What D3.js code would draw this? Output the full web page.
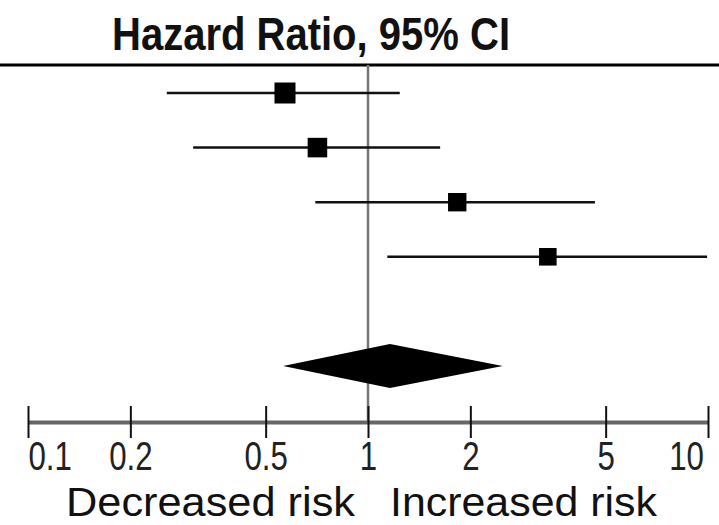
<!DOCTYPE html>
<html>
<head>
<meta charset="utf-8">
<script src="https://cdn.jsdelivr.net/npm/d3@7"></script>
<style>
  body { margin: 0; background: #fff; }
  svg { display: block; font-family: "Liberation Sans", Arial, sans-serif; }
</style>
</head>
<body>
<svg width="719" height="525"></svg>
<script>
// study estimates (hazard ratio, 95% CI)
var hr = [0.57, 0.71, 1.83, 3.38];
var lower = [0.256, 0.306, 0.70, 1.14];
var upper = [1.24, 1.63, 4.65, 9.94];
var weights = [30, 26, 23, 21];

// pooled estimate
var pooled = [1.16, 0.563, 2.49];

var tickValues = [0.1, 0.2, 0.5, 1, 2, 5, 10];
var tickLabels = ["0.1", "0.2", "0.5", "1", "2", "5", "10"];

var svg = d3.select("svg");

var xScale = d3.scaleLog()
    .domain([0.1, 10])
    .range([28, 708]);

// row index -> y, pooled diamond sits two rows below the last study
var yScale = d3.scaleLinear()
    .domain([0, 5])
    .range([93, 366]);

var sizeScale = d3.scaleSqrt()
    .domain([0, 30])
    .range([0, 21]);

var axisY = 422;

//title
svg.append("text")
    .attr("x", 112)
    .attr("y", 50)
    .attr("font-size", 46)
    .attr("font-weight", "bold")
    .attr("textLength", 398)
    .attr("lengthAdjust", "spacingAndGlyphs")
    .attr("fill", "#111")
    .text("Hazard Ratio, 95% CI");

// top rule
svg.append("line")
    .attr("x1", 0).attr("x2", 719)
    .attr("y1", 65).attr("y2", 65)
    .attr("stroke", "#000")
    .attr("stroke-width", 3);

// line of no effect
svg.append("line")
    .attr("x1", xScale(1)).attr("x2", xScale(1))
    .attr("y1", 65).attr("y2", axisY)
    .attr("stroke", "#777")
    .attr("stroke-width", 2.5);

// confidence intervals
svg.selectAll(".ci")
    .data(hr)
    .enter().append("line")
    .attr("class", "ci")
    .attr("x1", function (d, i) { return xScale(lower[i]); })
    .attr("x2", function (d, i) { return xScale(upper[i]); })
    .attr("y1", function (d, i) { return yScale(i); })
    .attr("y2", function (d, i) { return yScale(i); })
    .attr("stroke", "#111")
    .attr("stroke-width", 2.5);

// point estimates
svg.selectAll(".est")
    .data(hr)
    .enter().append("rect")
    .attr("class", "est")
    .attr("x", function (d, i) { return xScale(d) - sizeScale(weights[i]) / 2; })
    .attr("y", function (d, i) { return yScale(i) - sizeScale(weights[i]) / 2; })
    .attr("width", function (d, i) { return sizeScale(weights[i]); })
    .attr("height", function (d, i) { return sizeScale(weights[i]); })
    .attr("fill", "#000");

// pooled diamond
var py = yScale(5);
svg.append("path")
    .attr("d", "M" + xScale(pooled[1]) + "," + py +
        "L" + xScale(pooled[0]) + "," + (py - 22) +
        "L" + xScale(pooled[2]) + "," + py +
        "L" + xScale(pooled[0]) + "," + (py + 22) + "Z")
    .attr("fill", "#000");

// x axis
var axis = svg.append("g")
    .attr("transform", "translate(0," + axisY + ")")
    .call(d3.axisBottom(xScale)
        .tickValues(tickValues)
        .tickFormat(function (d, i) { return tickLabels[i]; })
        .tickSizeOuter(0));

axis.select(".domain")
    .attr("stroke", "#666")
    .attr("stroke-width", 4);

axis.selectAll(".tick line")
    .attr("y1", -16)
    .attr("y2", 16)
    .attr("stroke", "#111")
    .attr("stroke-width", 2);

axis.selectAll(".tick text")
    .attr("y", 48)
    .attr("dy", 0)
    .attr("font-size", 40)
    .attr("font-family", "\"Liberation Sans\", Arial, sans-serif")
    .attr("fill", "#222")
    .attr("transform", "scale(0.78,1)")
    .attr("text-anchor", function (d, i) {
        if (i == 0) return "start";
        if (i == tickValues.length - 1) return "end";
        return "middle";
    })
    .attr("x", function (d, i) {
        return i == tickValues.length - 1 ? -6 : 0;
    });

// direction labels
svg.append("text")
    .attr("x", 66)
    .attr("y", 516)
    .attr("font-size", 41)
    .attr("textLength", 289)
    .attr("lengthAdjust", "spacingAndGlyphs")
    .attr("fill", "#111")
    .text("Decreased risk");

svg.append("text")
    .attr("x", 390)
    .attr("y", 516)
    .attr("font-size", 41)
    .attr("textLength", 267)
    .attr("lengthAdjust", "spacingAndGlyphs")
    .attr("fill", "#111")
    .text("Increased risk");
</script>
</body>
</html>
